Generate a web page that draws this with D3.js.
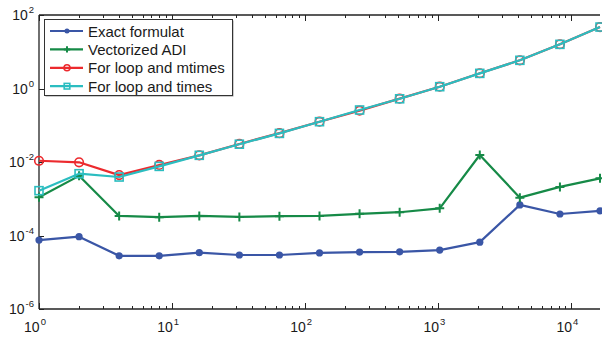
<!DOCTYPE html>
<html>
<head>
<meta charset="utf-8">
<script src="https://cdn.jsdelivr.net/npm/d3@7"></script>
<style>
  body { margin: 0; background: #fff; }
  text { font-family: "Liberation Sans", Arial, sans-serif; fill: #1a1a1a; }
</style>
</head>
<body>
<script>
// problem sizes 2^0 .. 2^14
var sizes = [1, 2, 4, 8, 16, 32, 64, 128, 256, 512, 1024, 2048, 4096, 8192, 16384];

var exactFormula = [7.5e-5, 9.3e-5, 2.8e-5, 2.8e-5, 3.4e-5, 2.95e-5, 2.95e-5, 3.35e-5, 3.55e-5, 3.6e-5, 4.0e-5, 6.6e-5, 6.8e-4, 3.85e-4, 4.7e-4];
var vectorizedADI = [1.1e-3, 4.2e-3, 3.4e-4, 3.15e-4, 3.4e-4, 3.2e-4, 3.35e-4, 3.4e-4, 3.9e-4, 4.3e-4, 5.5e-4, 1.55e-2, 1.07e-3, 2.1e-3, 3.6e-3];
var forLoopMtimes = [1.08e-2, 9.8e-3, 4.4e-3, 8.3e-3, 1.52e-2, 3.1e-2, 6.1e-2, 0.125, 0.25, 0.53, 1.12, 2.6, 5.85, 16.0, 47];
var forLoopTimes = [1.66e-3, 4.8e-3, 3.9e-3, 7.6e-3, 1.52e-2, 3.05e-2, 6.0e-2, 0.125, 0.26, 0.525, 1.12, 2.58, 5.85, 15.9, 47];

var seriesNames = ["Exact formulat", "Vectorized ADI", "For loop and mtimes", "For loop and times"];
var seriesColors = ["#3a56a6", "#168a47", "#ec2a2e", "#2bbdc0"];
var seriesMarkers = ["dot", "plus", "circle", "square"];
var seriesValues = [exactFormula, vectorizedADI, forLoopMtimes, forLoopTimes];

var xTickExps = [0, 1, 2, 3, 4];
var yTickExps = [-6, -4, -2, 0, 2];

var width = 602, height = 339;
var margin = {left: 39, right: 2, top: 15, bottom: 30};

var svg = d3.select("body").append("svg")
    .attr("width", width)
    .attr("height", height);

var xScale = d3.scaleLog()
    .domain([1, 16384])
    .range([margin.left, width - margin.right]);

var yScale = d3.scaleLog()
    .domain([1e-6, 1e2])
    .range([height - margin.bottom, margin.top]);

var x0 = xScale.range()[0], x1 = xScale.range()[1];
var y0 = yScale.range()[0], y1 = yScale.range()[1];

// minor ticks on x
var minorX = [];
for (var e = 0; e <= 4; e++) {
    for (var k = 2; k <= 9; k++) {
        var v = k * Math.pow(10, e);
        if (v <= 16384) minorX.push(v);
    }
}

var axes = svg.append("g").attr("class", "axes");

// bottom and top minor ticks
minorX.forEach(function (v) {
    var x = Math.round(xScale(v)) + 0.5;
    axes.append("line").attr("x1", x).attr("x2", x).attr("y1", y0).attr("y2", y0 - 3)
        .attr("stroke", "#222").attr("stroke-width", 1);
    axes.append("line").attr("x1", x).attr("x2", x).attr("y1", y1).attr("y2", y1 + 3)
        .attr("stroke", "#222").attr("stroke-width", 1);
});
// major x ticks
xTickExps.forEach(function (e) {
    var x = Math.round(xScale(Math.pow(10, e))) + 0.5;
    axes.append("line").attr("x1", x).attr("x2", x).attr("y1", y0).attr("y2", y0 - 6)
        .attr("stroke", "#222").attr("stroke-width", 1);
    axes.append("line").attr("x1", x).attr("x2", x).attr("y1", y1).attr("y2", y1 + 6)
        .attr("stroke", "#222").attr("stroke-width", 1);
    var t = axes.append("text")
        .attr("x", xScale(Math.pow(10, e)) - 4)
        .attr("y", y0 + 23)
        .attr("text-anchor", "middle")
        .style("font-size", "14px")
        .text("10");
    t.append("tspan").attr("dy", -7).attr("dx", 1).style("font-size", "9.5px").text(e);
});
// y ticks
yTickExps.forEach(function (e) {
    var y = Math.round(yScale(Math.pow(10, e))) + 0.5;
    axes.append("line").attr("x1", x0).attr("x2", x0 + 5).attr("y1", y).attr("y2", y)
        .attr("stroke", "#222").attr("stroke-width", 1);
    var t = axes.append("text")
        .attr("x", x0 - 5)
        .attr("y", y + 4)
        .attr("text-anchor", "end")
        .style("font-size", "14px");
    t.append("tspan").text("10");
    t.append("tspan").attr("dy", -7).attr("dx", 1).style("font-size", "9.5px").text(e);
});

// axis lines
axes.append("line").attr("x1", x0).attr("x2", x0).attr("y1", y1).attr("y2", y0)
    .attr("stroke", "#222").attr("stroke-width", 1.3);
axes.append("line").attr("x1", x0).attr("x2", x1).attr("y1", y0).attr("y2", y0)
    .attr("stroke", "#222").attr("stroke-width", 1.3);
axes.append("line").attr("x1", x0).attr("x2", x1).attr("y1", y1).attr("y2", y1)
    .attr("stroke", "#222").attr("stroke-width", 1.3);

var line = d3.line()
    .x(function (d) { return xScale(d[0]); })
    .y(function (d) { return yScale(d[1]); });

function drawMarker(g, type, color, x, y, s) {
    if (type === "dot") {
        g.append("circle").attr("cx", x).attr("cy", y).attr("r", 3.6 * s).attr("fill", color);
    } else if (type === "plus") {
        var h = 4.5 * s;
        g.append("path").attr("d", "M" + (x - h) + "," + y + "h" + (2 * h) + "M" + x + "," + (y - h) + "v" + (2 * h))
            .attr("stroke", color).attr("stroke-width", 2).attr("fill", "none");
    } else if (type === "circle") {
        g.append("circle").attr("cx", x).attr("cy", y).attr("r", 4.3 * s)
            .attr("fill", "none").attr("stroke", color).attr("stroke-width", 1.6);
    } else if (type === "square") {
        var a = 4 * s;
        g.append("rect").attr("x", x - a).attr("y", y - a).attr("width", 2 * a).attr("height", 2 * a)
            .attr("fill", "none").attr("stroke", color).attr("stroke-width", 1.6);
    }
}

var plot = svg.append("g").attr("class", "plot");
seriesValues.forEach(function (vals, i) {
    var data = sizes.map(function (s, j) { return [s, vals[j]]; });
    var g = plot.append("g");
    g.append("path")
        .datum(data)
        .attr("d", line)
        .attr("fill", "none")
        .attr("stroke", seriesColors[i])
        .attr("stroke-width", 2.2)
        .attr("stroke-linejoin", "round");
    data.forEach(function (d) {
        drawMarker(g, seriesMarkers[i], seriesColors[i], xScale(d[0]), yScale(d[1]), 1);
    });
});

// legend
var legend = svg.append("g").attr("class", "legend");
legend.append("rect")
    .attr("x", 45.5).attr("y", 20.5).attr("width", 188).attr("height", 76)
    .attr("fill", "#999").attr("stroke", "none");
legend.append("rect")
    .attr("x", 44.5).attr("y", 19.5).attr("width", 188).attr("height", 76)
    .attr("fill", "#fff").attr("stroke", "#333").attr("stroke-width", 1);
seriesNames.forEach(function (name, i) {
    var y = 31 + i * 18.4;
    legend.append("line").attr("x1", 50).attr("x2", 83).attr("y1", y).attr("y2", y)
        .attr("stroke", seriesColors[i]).attr("stroke-width", 2.2);
    drawMarker(legend, seriesMarkers[i], seriesColors[i], 67, y, 0.7);
    legend.append("text")
        .attr("x", 88)
        .attr("y", y + 5.5)
        .style("font-size", "15px")
        .text(name);
});
</script>
</body>
</html>
